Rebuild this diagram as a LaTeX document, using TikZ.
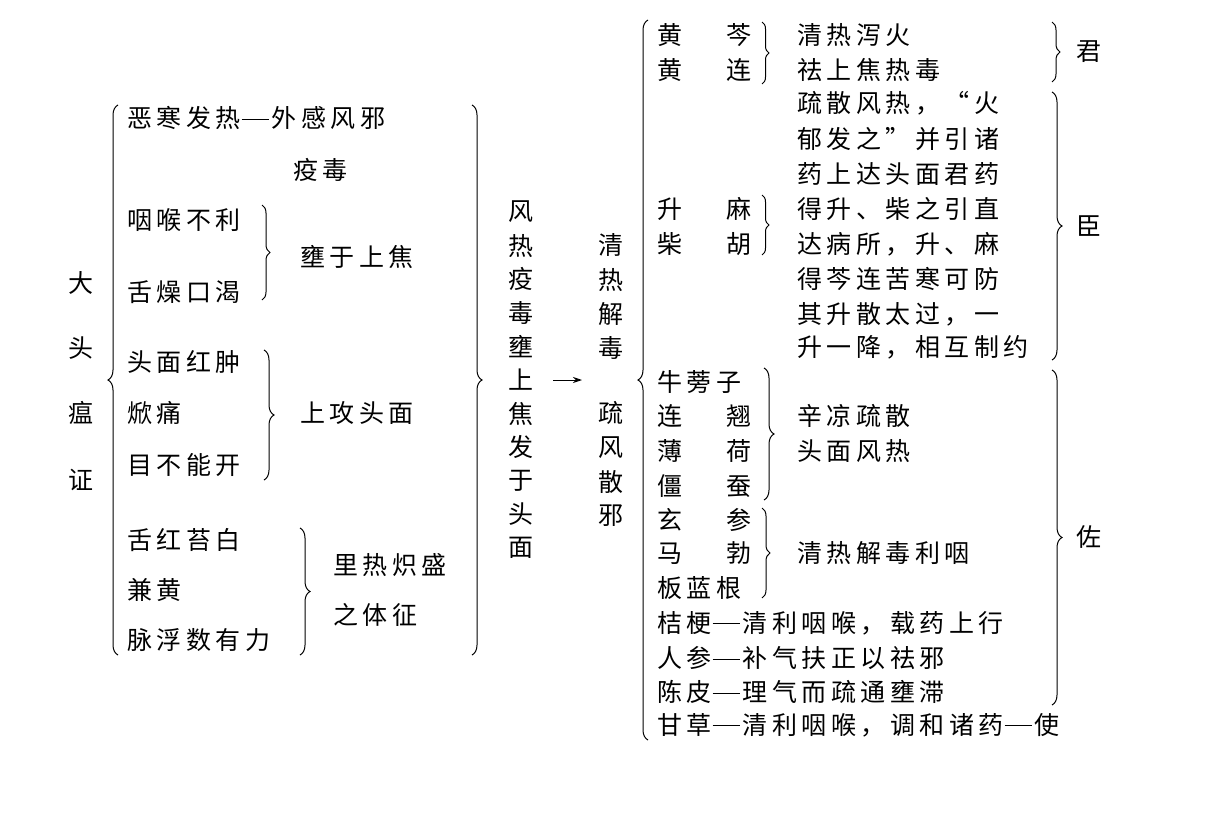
\documentclass[tikz,border=0pt]{standalone}
\usepackage{fontspec}
\setmainfont{Noto Sans CJK SC}[LetterSpace=18]
\usetikzlibrary{decorations.pathreplacing,arrows.meta}
\tikzset{t/.style={anchor=west,inner sep=0pt,font=\fontsize{25}{25}\selectfont},
 br/.style={decorate,decoration={brace,amplitude=#1},line width=1pt},
 br/.default=8}
\newcommand{\gp}[2]{#1\hspace{44pt}#2}
\newcommand{\dd}{\hspace{1pt}\rule[0.32em]{27pt}{0.9pt}\hspace{3pt}}
\begin{document}
\begin{tikzpicture}[x=1pt,y=-1pt]
\useasboundingbox (0,0) rectangle (1208,819);
% left title
\foreach \c/\y [count=\i] in {大/283,头/348,瘟/413,证/480}
  \node[t] (L\i) at (68,\y) {\c};
\draw[br=10] (118,655) -- (118,105);
\node[t] (a1) at (127,118) {恶寒发热\dd 外感风邪};
\node[t] (a2) at (293,170) {疫毒};
\node[t] (b1) at (127,220) {咽喉不利};
\node[t] (b2) at (127,292) {舌燥口渴};
\draw[br=8] (262,205) -- (262,300);
\node[t] (b3) at (300,257) {壅于上焦};
\node[t] (c1) at (127,362) {头面红肿};
\node[t] (c2) at (127,413) {焮痛};
\node[t] (c3) at (127,465) {目不能开};
\draw[br=10] (264,350) -- (264,480);
\node[t] (c4) at (300,413) {上攻头面};
\node[t] (d1) at (127,540) {舌红苔白};
\node[t] (d2) at (127,590) {兼黄};
\node[t] (d3) at (127,640) {脉浮数有力};
\draw[br=10] (300,528) -- (300,655);
\node[t] (d4) at (333,565) {里热炽盛};
\node[t] (d5) at (333,615) {之体征};
\draw[br=10] (472,105) -- (472,655);
% middle columns
\foreach \c [count=\i] in {风,热,疫,毒,壅,上,焦,发,于,头,面}
  \node[t] (m\i) at (508,{212+33.6*(\i-1)}) {\c};
\foreach \c/\y [count=\i] in {清/245,热/280,解/314,毒/348,疏/413,风/448,散/482,邪/516}
  \node[t] (n\i) at (598,\y) {\c};
\coordinate (ar1) at (553,380); \coordinate (ar2) at (582,380);
\draw[-{Stealth[length=9pt,width=6pt]},line width=0.9pt] (ar1) -- (ar2);
\draw[br=10] (648,740) -- (648,20);
% right: 君
\node[t] (h1) at (657,35) {\gp{黄}{芩}};
\node[t] (h2) at (657,70) {\gp{黄}{连}};
\draw[br=7] (762,22) -- (762,84);
\node[t] (h3) at (797,35) {清热泻火};
\node[t] (h4) at (797,70) {祛上焦热毒};
\draw[br=8] (1052,22) -- (1052,82);
\node[t] (jun) at (1076,52) {君};
% 臣
\foreach \s/\y [count=\i] in {疏散风热，“火/103,郁发之”并引诸/139,药上达头面君药/174,得升、柴之引直/209,达病所，升、麻/244,得芩连苦寒可防/279,其升散太过，一/314,升一降，相互制约/347}
  \node[t] (q\i) at (797,\y) {\s};
\node[t] (s1) at (657,209) {\gp{升}{麻}};
\node[t] (s2) at (657,244) {\gp{柴}{胡}};
\draw[br=7] (762,195) -- (762,255);
\draw[br=10] (1052,92) -- (1052,360);
\node[t] (chen) at (1076,226) {臣};
% 佐
\node[t] (z1) at (657,382) {牛蒡子};
\node[t] (z2) at (657,416) {\gp{连}{翘}};
\node[t] (z3) at (657,451) {\gp{薄}{荷}};
\node[t] (z4) at (657,486) {\gp{僵}{蚕}};
\draw[br=10] (764,368) -- (764,500);
\node[t] (z5) at (797,416) {辛凉疏散};
\node[t] (z6) at (797,451) {头面风热};
\node[t] (y1) at (657,520) {\gp{玄}{参}};
\node[t] (y2) at (657,553) {\gp{马}{勃}};
\node[t] (y3) at (657,588) {板蓝根};
\draw[br=8] (762,508) -- (762,598);
\node[t] (y4) at (797,553) {清热解毒利咽};
\node[t] (k1) at (657,623) {桔梗\dd 清利咽喉，载药上行};
\node[t] (k2) at (657,658) {人参\dd 补气扶正以祛邪};
\node[t] (k3) at (657,692) {陈皮\dd 理气而疏通壅滞};
\draw[br=10] (1052,370) -- (1052,705);
\node[t] (zuo) at (1076,537) {佐};
\node[t] (g1) at (657,725) {甘草\dd 清利咽喉，调和诸药\dd 使};
\end{tikzpicture}
\end{document}
